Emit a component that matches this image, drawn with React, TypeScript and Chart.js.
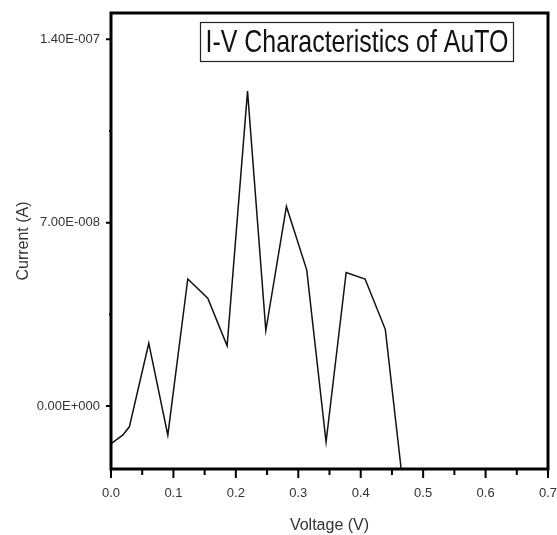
import React, { useEffect, useRef } from "react";
import { Chart, registerables } from "chart.js";

Chart.register(...registerables);

const voltage = [0, 0.0187, 0.0294, 0.0605, 0.091, 0.123, 0.155, 0.186, 0.2187, 0.248, 0.281, 0.3135, 0.3445, 0.3767, 0.407, 0.4394, 0.47];
const current = [-1.43e-8, -1.11e-8, -7.9e-9, 2.4e-8, -1.11e-8, 4.85e-8, 4.12e-8, 2.3e-8, 1.202e-7, 2.88e-8, 7.62e-8, 5.2e-8, -1.37e-8, 5.1e-8, 4.85e-8, 2.93e-8, -3.5e-8];
const yMajorTicks = [0, 7e-8, 1.4e-7];
const yMinorTicks = [3.5e-8, 1.05e-7];
const xMajorTicks = [0, 0.1, 0.2, 0.3, 0.4, 0.5, 0.6, 0.7];
const xMinorTicks = [0.05, 0.15, 0.25, 0.35, 0.45, 0.55, 0.65];
const chartTitle = "I-V Characteristics of AuTO";
const xTitle = "Voltage (V)";
const yTitle = "Current (A)";

function sci(v: number): string {
  if (v === 0) return "0.00E+000";
  let exp = Math.floor(Math.log10(Math.abs(v)));
  let mant = v / Math.pow(10, exp);
  if (Math.abs(mant) >= 9.995) { mant /= 10; exp += 1; }
  const sign = exp < 0 ? "-" : "+";
  return mant.toFixed(2) + "E" + sign + String(Math.abs(exp)).padStart(3, "0");
}

const framePlugin = {
  id: "frame",
  afterDraw(chart: any) {
    const ctx = chart.ctx;
    const { left, right, top, bottom } = chart.chartArea;
    const xs = chart.scales.x;
    const ys = chart.scales.y;
    ctx.save();
    ctx.strokeStyle = "#000";
    ctx.lineWidth = 3;
    ctx.strokeRect(left, top, right - left, bottom - top);
    ctx.lineWidth = 2;
    ctx.beginPath();
    xMajorTicks.forEach((v) => { const p = xs.getPixelForValue(v); ctx.moveTo(p, bottom); ctx.lineTo(p, bottom + 9); });
    xMinorTicks.forEach((v) => { const p = xs.getPixelForValue(v); ctx.moveTo(p, bottom); ctx.lineTo(p, bottom + 6); });
    yMajorTicks.forEach((v) => { const p = ys.getPixelForValue(v); ctx.moveTo(left, p); ctx.lineTo(left - 5, p); });
    yMinorTicks.forEach((v) => { const p = ys.getPixelForValue(v); ctx.moveTo(left, p); ctx.lineTo(left - 2, p); });
    ctx.stroke();

    // title box
    const bx = 200.5, by = 22.5, bw = 313, bh = 39;
    ctx.fillStyle = "#fff";
    ctx.fillRect(bx, by, bw, bh);
    ctx.lineWidth = 1.2;
    ctx.strokeStyle = "#222";
    ctx.strokeRect(bx, by, bw, bh);
    ctx.font = '32px "Liberation Sans", Arial, sans-serif';
    const w = ctx.measureText(chartTitle).width;
    const target = 303;
    ctx.translate(bx + bw / 2, by + 29);
    ctx.scale(target / w, 1);
    ctx.fillStyle = "#111";
    ctx.textAlign = "center";
    ctx.textBaseline = "alphabetic";
    ctx.fillText(chartTitle, 0, 0);
    ctx.restore();
  },
};

export default function App() {
  const ref = useRef<HTMLCanvasElement>(null);
  useEffect(() => {
    if (!ref.current) return;
    const chart = new Chart(ref.current, {
      type: "line",
      data: {
        datasets: [
          {
            data: voltage.map((v, i) => ({ x: v, y: current[i] })),
            borderColor: "#111",
            borderWidth: 1.5,
            pointRadius: 0,
            tension: 0,
            fill: false,
          },
        ],
      },
      options: {
        responsive: false,
        animation: false,
        layout: { padding: { top: 13, right: 0, left: 0, bottom: 0 } },
        plugins: { legend: { display: false }, tooltip: { enabled: false }, title: { display: false } },
        scales: {
          x: {
            type: "linear",
            min: 0,
            max: 0.7,
            afterFit: (s: any) => { s.height = 66; s.paddingRight = 9; s.paddingLeft = 0; },
            afterBuildTicks: (s: any) => { s.ticks = xMajorTicks.map((v) => ({ value: v })); },
            grid: { display: true, drawOnChartArea: false, drawTicks: true, tickLength: 6, color: "rgba(0,0,0,0)" },
            border: { display: false },
            ticks: {
              padding: 11,
              color: "#333",
              font: { family: '"Liberation Sans", Arial, sans-serif', size: 13 },
              callback: (v: any) => Number(v).toFixed(1),
              maxRotation: 0,
              autoSkip: false,
            },
            title: {
              display: true,
              text: xTitle,
              color: "#333",
              font: { family: '"Liberation Sans", Arial, sans-serif', size: 16 },
              padding: { top: 0, bottom: 0 },
            },
          },
          y: {
            type: "linear",
            min: -2.4e-8,
            max: 1.5e-7,
            afterFit: (s: any) => { s.width = 111; s.paddingTop = 0; s.paddingBottom = 0; },
            afterBuildTicks: (s: any) => { s.ticks = yMajorTicks.map((v) => ({ value: v })); },
            grid: { display: true, drawOnChartArea: false, drawTicks: true, tickLength: 6, color: "rgba(0,0,0,0)" },
            border: { display: false },
            ticks: {
              padding: 5,
              color: "#333",
              font: { family: '"Liberation Sans", Arial, sans-serif', size: 13 },
              callback: (v: any) => sci(Number(v)),
              autoSkip: false,
            },
            title: {
              display: true,
              text: yTitle,
              color: "#333",
              font: { family: '"Liberation Sans", Arial, sans-serif', size: 16 },
              padding: { top: 14, bottom: 0 },
            },
          },
        },
      },
      plugins: [framePlugin],
    });
    return () => chart.destroy();
  }, []);
  return (
    <div style={{ position: "absolute", left: 0, top: 0, width: 557, height: 535, background: "#fff" }}>
      <canvas ref={ref} width={557} height={535} style={{ display: "block" }} />
    </div>
  );
}
